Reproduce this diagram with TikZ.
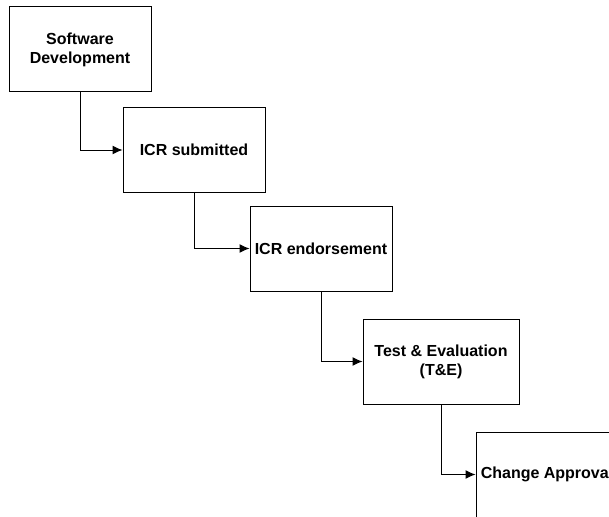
\documentclass[tikz,border=0pt]{standalone}
\usepackage{fontspec}
\setmainfont{Liberation Sans}
\usepackage{tikz}
\usetikzlibrary{arrows.meta}
\tikzset{
    node style box/.style={draw,rectangle,line width=1pt,minimum width=142pt,minimum height=85pt,
                           inner sep=0pt,align=center,font=\fontsize{16pt}{19pt}\selectfont\bfseries},
    arrow style flow/.style={draw,line width=1pt,->},
}

\begin{document}
\begin{tikzpicture}[x=1pt,y=-1pt,>={Latex[length=10pt,width=9pt]}]
 \useasboundingbox (0,0) rectangle (609,516);
 \clip (0,0) rectangle (609,516);

 \node [node style box] (swdev) at (80,49.5) {Software\\Development};
 \node [node style box] (icrsub) at (194,150) {ICR submitted};
 \node [node style box] (icrend) at (321,248.5) {ICR endorsement};
 \node [node style box,minimum width=156pt] (tande) at (441,361.5) {Test \& Evaluation\\(T\&E)};
 \node [node style box] (chgapp) at (547,474.5) {Change Approval};

 \draw [arrow style flow] (swdev.south) |- (icrsub.west);
 \draw [arrow style flow] (icrsub.south) |- (icrend.west);
 \draw [arrow style flow] (icrend.south) |- (tande.west);
 \draw [arrow style flow] (tande.south) |- (chgapp.west);

\end{tikzpicture}
\end{document}
